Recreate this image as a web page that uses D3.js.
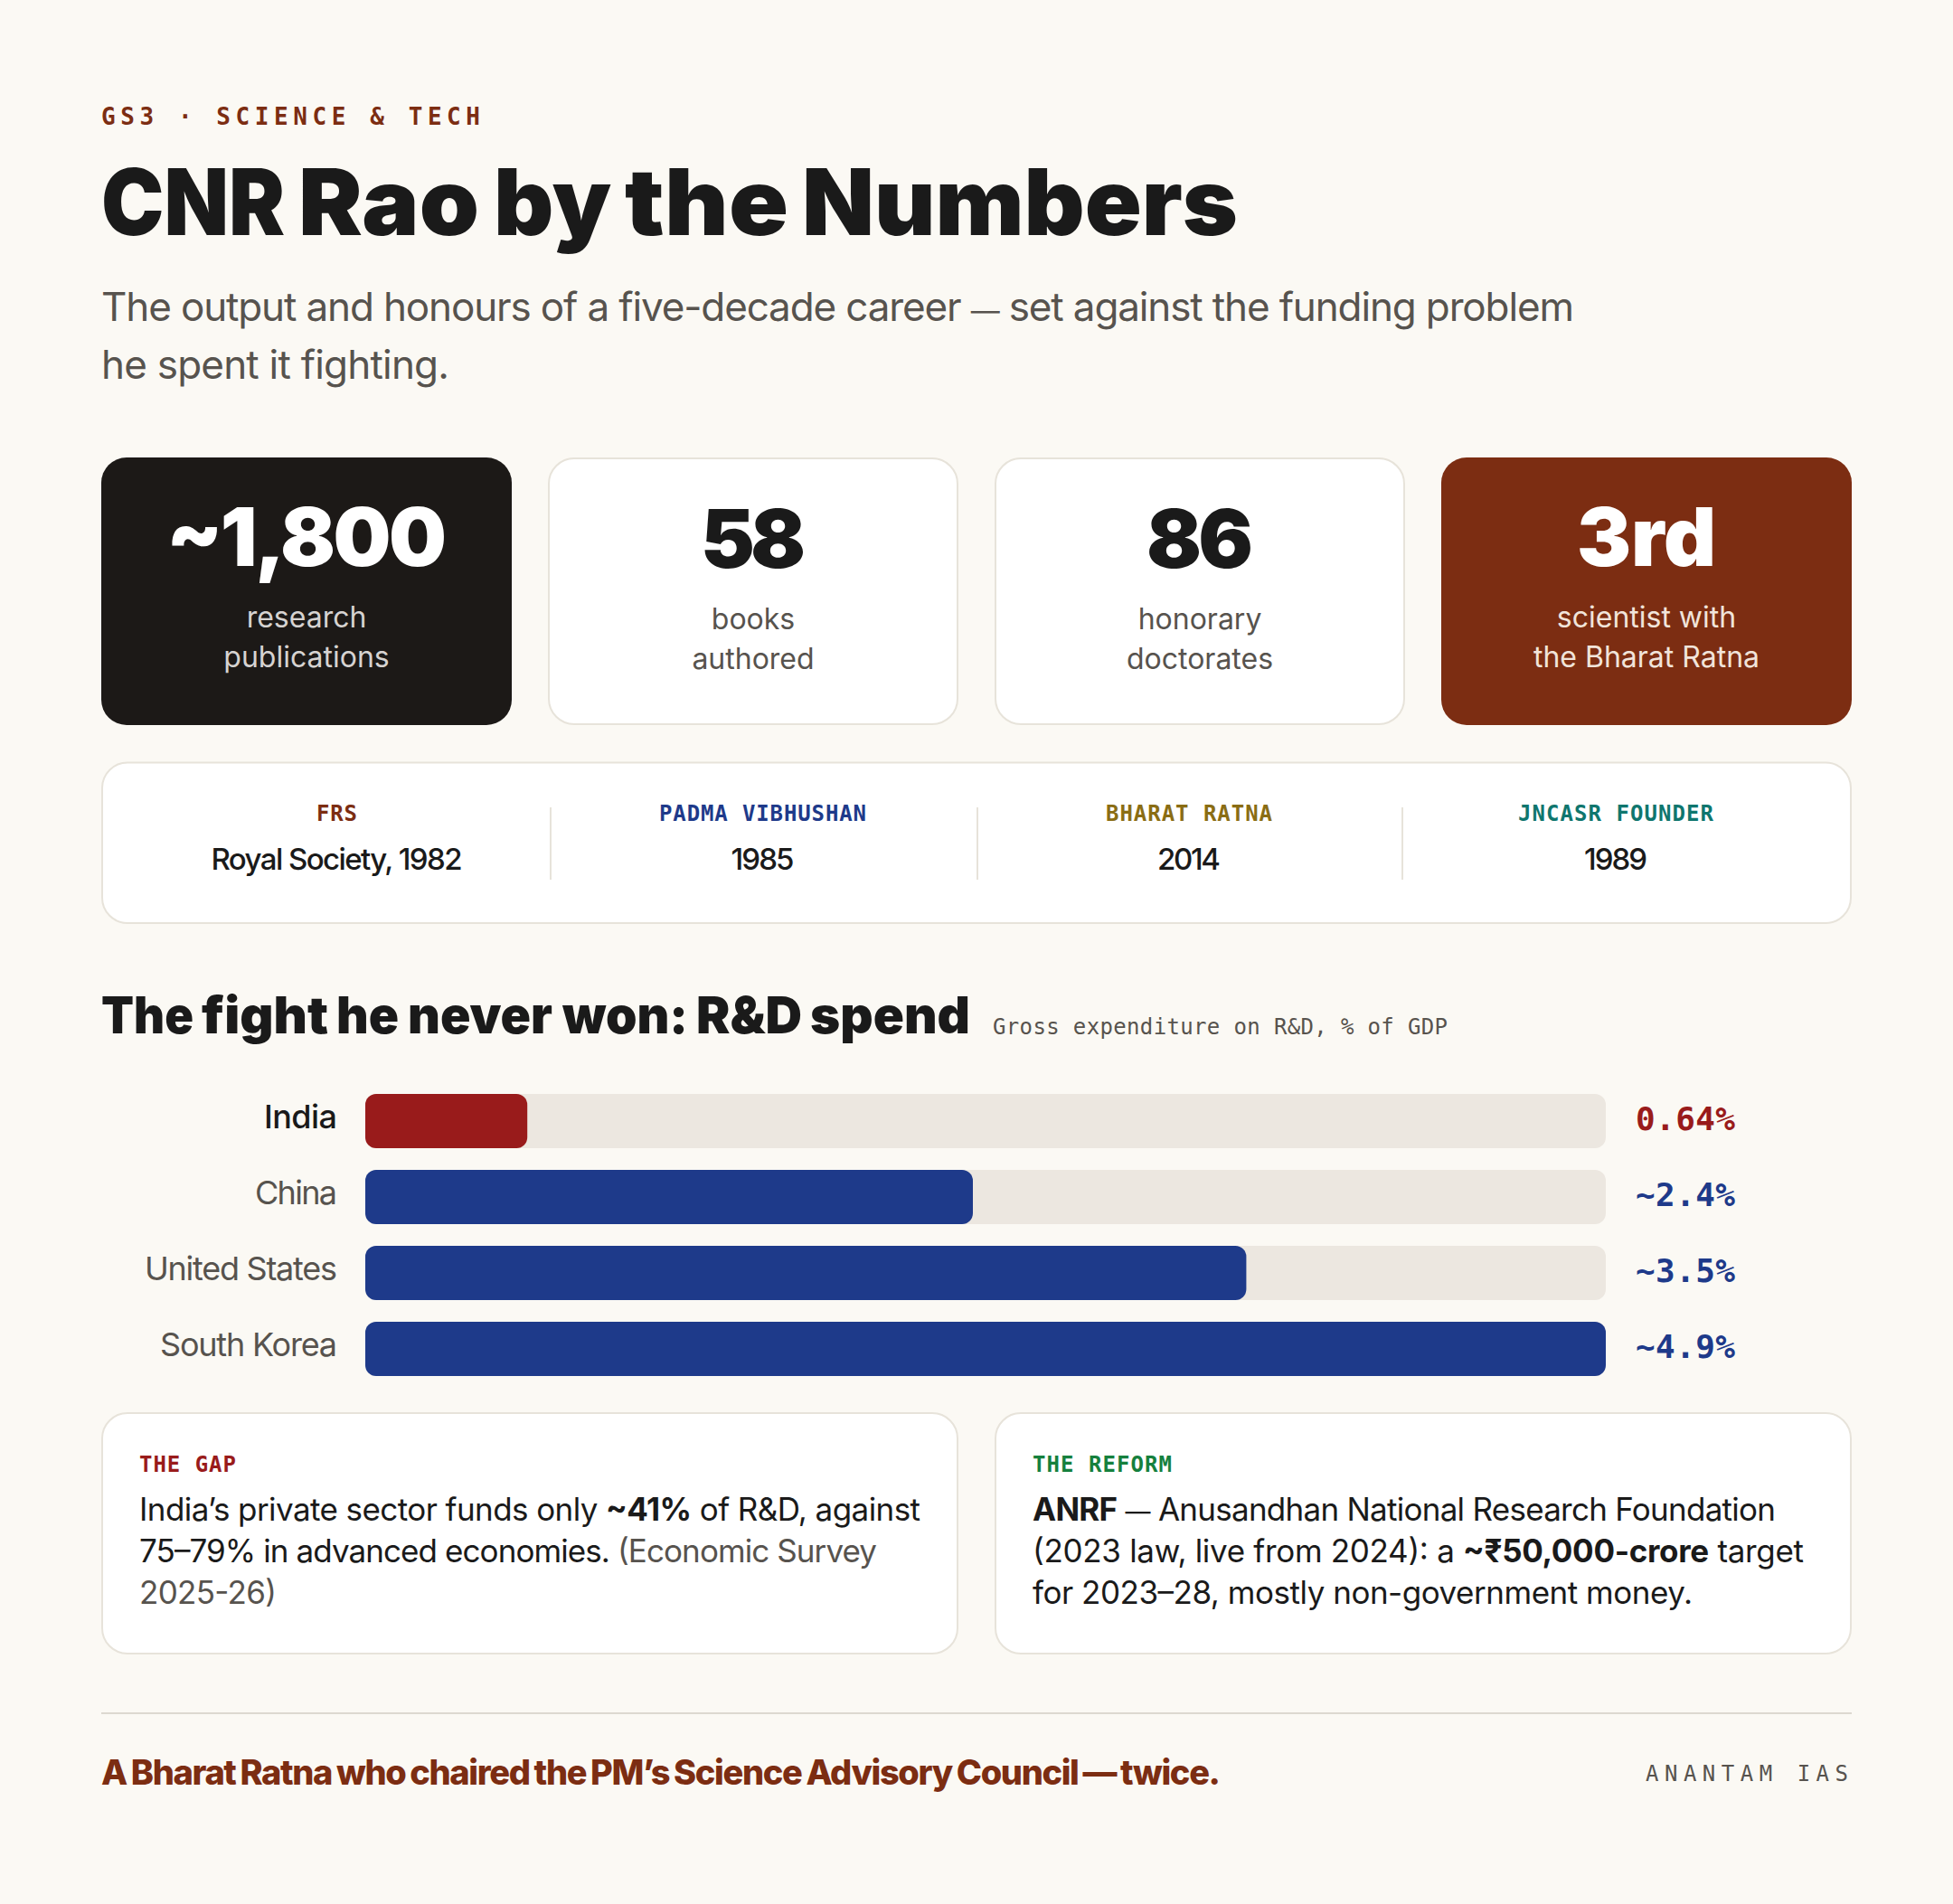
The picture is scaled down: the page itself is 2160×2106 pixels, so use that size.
<!DOCTYPE html>
<html>
<head>
    <meta charset="utf-8">
    <script src="https://d3js.org/d3.v7.min.js"></script>
    <style>
        html, body { margin: 0; padding: 0; background: #fbf9f4; }
        svg { display: block; }
    </style>
</head>

<body>
    <div id="cont"></div>

    <script>
        // chart values
        var countries = ["India", "China", "United States", "South Korea"];
        var spendValues = [0.64, 2.4, 3.48, 4.9];
        var spendLabels = ["0.64%", "~2.4%", "~3.5%", "~4.9%"];

        var statNumbers = ["~1,800", "58", "86", "3rd"];
        var statLines = [["research", "publications"], ["books", "authored"], ["honorary", "doctorates"], ["scientist with", "the Bharat Ratna"]];

        var honourTitles = ["FRS", "PADMA VIBHUSHAN", "BHARAT RATNA", "JNCASR FOUNDER"];
        var honourValues = ["Royal Society, 1982", "1985", "2014", "1989"];

        var noteTitles = ["THE GAP", "THE REFORM"];

        var sans = "Inter, 'Noto Sans', sans-serif";
        var mono = "'DejaVu Sans Mono', monospace";
        var ink = "#1a1a1a", grey = "#57534e", rust = "#7c2d12", navy = "#1e3a8a", crimson = "#991b1b", edge = "#e7e3da";

        var svg = d3.select("#cont").append("svg")
            .attr("width", 2160)
            .attr("height", 2106);

        svg.append("rect").attr("width", 2160).attr("height", 2106).attr("fill", "#fbf9f4");

        var label = function (x, y, str, o) {
            var t = svg.append("text")
                .attr("x", x)
                .attr("y", y)
                .attr("font-family", o.family || sans)
                .attr("font-size", o.size)
                .attr("font-weight", o.weight || 400)
                .attr("fill", o.fill || ink)
                .attr("text-anchor", o.anchor || "start")
                .text(str);
            if (o.word) t.attr("word-spacing", o.word);
            if (o.width) t.attr("textLength", o.width);
            return t;
        };

        // heavy headings: the words sit tight together, so each one gets its own start and width
        var headline = function (yPos, words, o) {
            var t = label(0, yPos, "", o);
            t.attr("x", null);
            words.forEach(function (w, i) {
                t.append("tspan")
                    .attr("x", w[1])
                    .attr("textLength", w[2])
                    .attr("lengthAdjust", "spacingAndGlyphs")
                    .text(w[0]);
                if (i < words.length - 1) t.append("tspan").text(" ");
            });
        };

        // one line of mixed text: [string, bold, colour, size]
        var rich = function (xPos, yPos, parts, width, size, fill) {
            var t = label(xPos, yPos, "", {size: size || 35, width: width, fill: fill});
            parts.forEach(function (p) {
                var s = t.append("tspan").attr("font-weight", p[1] ? 700 : 400).text(p[0]);
                if (p[2]) s.attr("fill", p[2]);
                if (p[3]) s.attr("font-size", p[3]);
            });
        };

        // header
        label(112, 138, "GS3 · SCIENCE & TECH", {family: mono, size: 26, weight: 700, fill: rust, width: 419});
        headline(260, [["CNR", 112, 203], ["Rao", 330, 200], ["by", 546, 130], ["the", 691, 181], ["Numbers", 887, 482]], {size: 102, weight: 900});
        rich(112, 354.5, [["The output and honours of a five-decade career "], ["—", 0, 0, 32], [" set against the funding problem"]], 1629, 44, grey);
        label(112, 418.5, "he spent it fighting.", {size: 44, fill: grey, width: 385});

        // stat cards
        var cardX = d3.scaleBand().domain(d3.range(4)).range([112, 2048]).paddingInner(40 / 494);
        var cardFill = ["#1c1917", "#ffffff", "#ffffff", rust];
        var cardText = ["#ffffff", ink, ink, "#ffffff"];
        var cardSub = ["#d6d3d1", grey, grey, "#f1e4da"];
        var numWidth = [310, 116, 118, 154];

        statNumbers.forEach(function (s, i) {
            var dy = (i == 1 || i == 2) ? 2 : 0;
            var plain = i == 1 || i == 2;
            svg.append("rect")
                .attr("x", cardX(i) + (plain ? 1 : 0))
                .attr("y", 506 + (plain ? 1 : 0))
                .attr("width", cardX.bandwidth() - (plain ? 2 : 0))
                .attr("height", 296 - (plain ? 2 : 0))
                .attr("rx", 28)
                .attr("fill", cardFill[i])
                .attr("stroke", plain ? edge : "none")
                .attr("stroke-width", 2);
            var cx = cardX(i) + cardX.bandwidth() / 2;
            label(cx, 626 + dy, s, {size: 90, weight: 900, fill: cardText[i], anchor: "middle", width: numWidth[i]});
            statLines[i].forEach(function (l, j) {
                label(cx, 693.5 + dy + j * 44, l, {size: 32, fill: cardSub[i], anchor: "middle"});
            });
        });

        // honours strip
        svg.append("rect").attr("x", 113).attr("y", 843.5).attr("width", 1934).attr("height", 177.5)
            .attr("rx", 28).attr("fill", "#fff").attr("stroke", edge).attr("stroke-width", 2);
        var honourX = [372.5, 843.5, 1315, 1787];
        var honourColor = [rust, navy, "#8a6d14", "#0f766e"];
        var honourW = [45, 229, 184, 216];
        honourTitles.forEach(function (s, i) {
            label(honourX[i], 908, s, {family: mono, size: 24, weight: 700, fill: honourColor[i], anchor: "middle", width: honourW[i]});
            label(honourX[i], 962, honourValues[i], {size: 33, weight: 500, anchor: "middle", width: i == 0 ? 278 : 70});
        });
        [609, 1081, 1551].forEach(function (x) {
            svg.append("line").attr("x1", x).attr("x2", x).attr("y1", 893).attr("y2", 973)
                .attr("stroke", edge).attr("stroke-width", 2);
        });

        // R&D section
        headline(1143, [["The", 112, 102], ["fight", 223, 140], ["he", 372, 69], ["never", 451, 160], ["won:", 622, 139], ["R&D", 770, 117], ["spend", 896, 177]], {size: 56, weight: 900});
        label(1098, 1144, "Gross expenditure on R&D, % of GDP", {family: mono, size: 24, fill: grey, width: 503});

        var x = d3.scaleLinear().domain([0, 4.9]).range([404, 1776]);
        var y = d3.scaleBand().domain(countries).range([1210, 1522]).paddingInner(24 / 84);

        svg.selectAll(".track").data(countries).enter().append("rect")
            .attr("class", "track")
            .attr("x", x(0))
            .attr("y", function (d) { return y(d); })
            .attr("width", x(4.9) - x(0))
            .attr("height", y.bandwidth())
            .attr("rx", 12)
            .attr("fill", "#ece7e0");

        svg.selectAll(".bar").data(spendValues).enter().append("rect")
            .attr("class", "bar")
            .attr("x", x(0))
            .attr("y", function (d, i) { return y(countries[i]); })
            .attr("width", function (d) { return x(d) - x(0); })
            .attr("height", y.bandwidth())
            .attr("rx", 12)
            .attr("fill", function (d, i) { return i == 0 ? crimson : navy; });

        var nameW = [81, 91, 213, 196];
        countries.forEach(function (c, i) {
            label(373, y(c) + 38, c, {size: 36, weight: i == 0 ? 500 : 400, fill: i == 0 ? ink : grey, anchor: "end", width: nameW[i]});
            label(1809, y(c) + 40, spendLabels[i], {family: mono, size: 36, weight: 700, fill: i == 0 ? crimson : navy, width: 110});
        });

        // note cards
        [[113, 946], [1101, 946]].forEach(function (c) {
            svg.append("rect").attr("x", c[0]).attr("y", 1563).attr("width", c[1]).attr("height", 266)
                .attr("rx", 28).attr("fill", "#fff").attr("stroke", edge).attr("stroke-width", 2);
        });
        label(154, 1628, noteTitles[0], {family: mono, size: 24, weight: 700, fill: crimson, width: 107});
        label(1142, 1628, noteTitles[1], {family: mono, size: 24, weight: 700, fill: "#15803d", width: 154});

        rich(154, 1682, [["India’s private sector funds only "], ["~41%", 1], [" of R&D, against"]], 864);
        rich(154, 1728, [["75–79% in advanced economies. "], ["(Economic Survey", 0, grey]], 816);
        rich(154, 1774, [["2025-26)", 0, grey]], 152);
        rich(1142, 1682, [["ANRF", 1], [" "], ["—", 0, 0, 28], [" Anusandhan National Research Foundation"]], 822);
        rich(1142, 1728, [["(2023 law, live from 2024): a "], ["~₹50,000-crore", 1], [" target"]], 853);
        rich(1142, 1774, [["for 2023–28, mostly non-government money."]], 730);

        // footer
        svg.append("line").attr("x1", 112).attr("x2", 2048).attr("y1", 1895).attr("y2", 1895)
            .attr("stroke", "#dcd8d0").attr("stroke-width", 2);
        label(112, 1974, "A Bharat Ratna who chaired the PM’s Science Advisory Council — twice.", {size: 38, weight: 800, fill: rust, word: -2, width: 1238});
        label(1820, 1970, "ANANTAM IAS", {family: mono, size: 24, fill: grey, width: 224});
    </script>
</body>
</html>
